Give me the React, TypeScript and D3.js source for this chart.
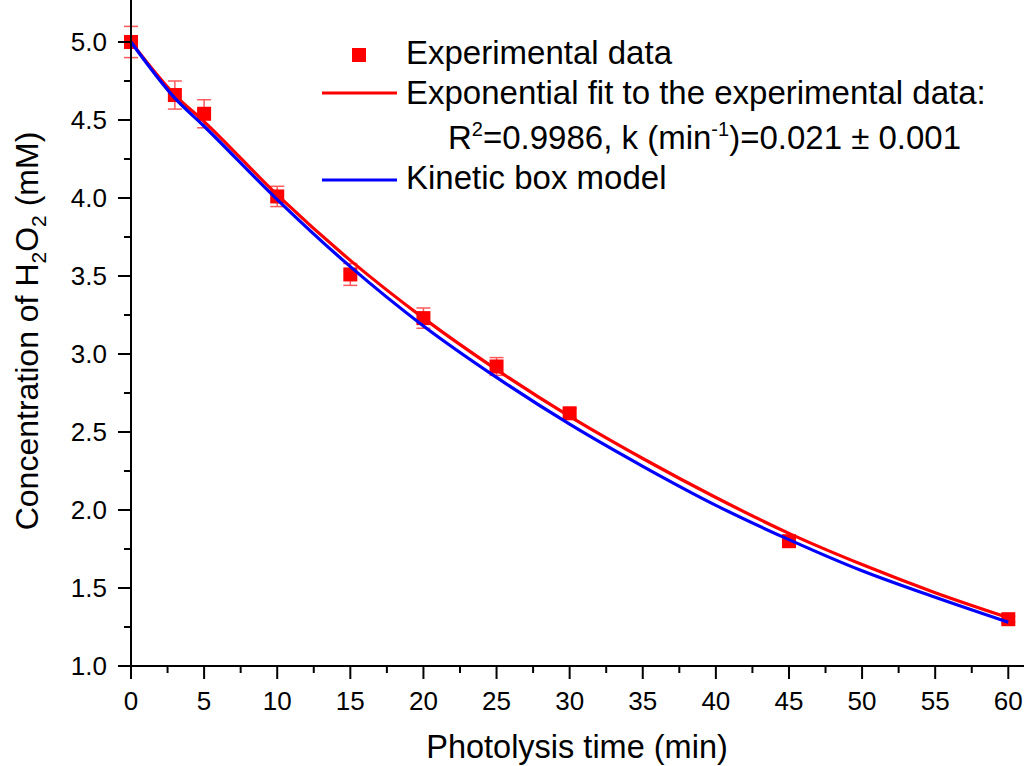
import React from 'react';
import * as d3 from 'd3';

// measured H2O2 concentrations (mM)
const times = [0, 3, 5, 10, 15, 20, 25, 30, 45, 60];
const conc = [5.0, 4.66, 4.54, 4.01, 3.51, 3.23, 2.92, 2.62, 1.8, 1.3];
const concErr = [0.1, 0.09, 0.09, 0.065, 0.07, 0.065, 0.057, 0.03, 0.02, 0.02];

// curves
const curveT = [0, 3, 5, 10, 15, 20, 25, 30, 35, 40, 45, 50, 55, 60];
const fitC = [5.0, 4.66, 4.49, 4.02, 3.6, 3.23, 2.9, 2.6, 2.33, 2.08, 1.85, 1.65, 1.47, 1.31];
const modelC = [5.0, 4.64, 4.46, 3.99, 3.56, 3.18, 2.85, 2.55, 2.28, 2.03, 1.81, 1.61, 1.44, 1.28];

const xTickLabels = [0, 5, 10, 15, 20, 25, 30, 35, 40, 45, 50, 55, 60];
const yTickLabels = [1.0, 1.5, 2.0, 2.5, 3.0, 3.5, 4.0, 4.5, 5.0];

const W = 1024;
const H = 766;
const font = '"Liberation Sans", Arial, sans-serif';

const App = () => {
    const x = d3.scaleLinear().domain([0, 60]).range([131, 1008.3]);
    const y = d3.scaleLinear().domain([1, 5]).range([666, 42]);

    const xMinor = d3.range(2.5, 61, 5);
    const yMinor = d3.range(1.25, 5, 0.5);

    const line = d3.line<number>()
        .x((d, i) => x(curveT[i]))
        .y(d => y(d))
        .curve(d3.curveMonotoneX);

    const sq = 14;

    return (
        <svg width={W} height={H} style={{ position: 'absolute', left: 0, top: 0, background: '#fff' }}>
            {/* error bars */}
            <g stroke="#ff5a5a" strokeWidth={1.5}>
                {times.map((t, i) => (
                    <g key={i}>
                        <line x1={x(t)} x2={x(t)} y1={y(conc[i] - concErr[i])} y2={y(conc[i] + concErr[i])} />
                        <line x1={x(t) - 7} x2={x(t) + 7} y1={y(conc[i] + concErr[i])} y2={y(conc[i] + concErr[i])} />
                        <line x1={x(t) - 7} x2={x(t) + 7} y1={y(conc[i] - concErr[i])} y2={y(conc[i] - concErr[i])} />
                    </g>
                ))}
            </g>

            <path d={line(fitC) || ''} fill="none" stroke="#ff0000" strokeWidth={3.2} />

            {times.map((t, i) => (
                <rect key={i} x={x(t) - sq / 2} y={y(conc[i]) - sq / 2} width={sq} height={sq} fill="#ff0000" />
            ))}

            <path d={line(modelC) || ''} fill="none" stroke="#0000ff" strokeWidth={3.2} />

            {/* axes */}
            <g stroke="#000" strokeWidth={2}>
                <line x1={131} x2={1024} y1={y(1)} y2={y(1)} />
                <line x1={x(0)} x2={x(0)} y1={667} y2={0} />
                {xTickLabels.map(t => (
                    <line key={t} x1={x(t)} x2={x(t)} y1={666} y2={679} />
                ))}
                {xMinor.map(t => (
                    <line key={t} x1={x(t)} x2={x(t)} y1={666} y2={673} />
                ))}
                {yTickLabels.map(v => (
                    <line key={v} x1={118} x2={131} y1={y(v)} y2={y(v)} />
                ))}
                {yMinor.map(v => (
                    <line key={v} x1={124} x2={131} y1={y(v)} y2={y(v)} />
                ))}
            </g>

            <g fontFamily={font} fontSize={26} fill="#000">
                {xTickLabels.map(t => (
                    <text key={t} x={x(t)} y={710} textAnchor="middle">{t}</text>
                ))}
                {yTickLabels.map(v => (
                    <text key={v} x={107} y={y(v) + 9} textAnchor="end">{v.toFixed(1)}</text>
                ))}
            </g>

            <text x={577} y={758} textAnchor="middle" fontFamily={font} fontSize={32.5}>Photolysis time (min)</text>
            <text transform={`translate(38,331) rotate(-90)`} textAnchor="middle" fontFamily={font} fontSize={32}>
                Concentration of H<tspan fontSize={21} dy={8}>2</tspan><tspan dy={-8}>O</tspan><tspan fontSize={21} dy={8}>2</tspan><tspan dy={-8}> (mM)</tspan>
            </text>

            {/* legend */}
            <g fontFamily={font} fontSize={33} fill="#000">
                <rect x={352} y={48} width={14} height={14} fill="#ff0000" />
                <text x={406} y={64}>Experimental data</text>
                <line x1={322} x2={397} y1={93} y2={93} stroke="#ff0000" strokeWidth={3} />
                <text x={406} y={104}>Exponential fit to the experimental data:</text>
                <text x={448} y={149}>
                    R<tspan fontSize={20} dy={-13}>2</tspan><tspan dy={13}>=0.9986, k (min</tspan><tspan fontSize={20} dy={-13}>-1</tspan><tspan dy={13}>)=0.021 ± 0.001</tspan>
                </text>
                <line x1={322} x2={397} y1={180} y2={180} stroke="#0000ff" strokeWidth={3} />
                <text x={406} y={189}>Kinetic box model</text>
            </g>
        </svg>
    );
};

export default App;
